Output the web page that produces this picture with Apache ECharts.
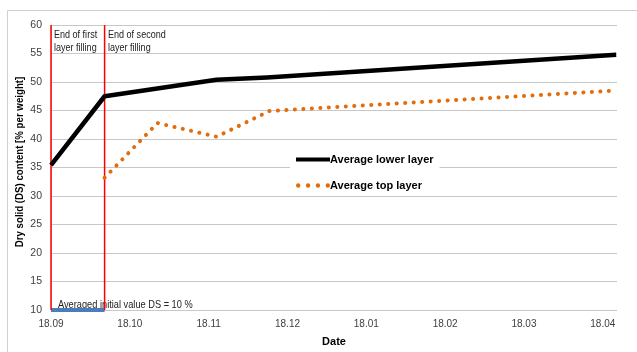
<!DOCTYPE html>
<html><head><meta charset="utf-8">
<script src="https://cdn.jsdelivr.net/npm/echarts@6/dist/echarts.min.js"></script>
<style>html,body{margin:0;padding:0;background:#fff}#c{width:637px;height:352px}</style>
</head><body><div id="c"></div>
<script>
// x values are months since 18.09
var tickLabels = ['18.09','18.10','18.11','18.12','18.01','18.02','18.03','18.04'];
var lowerX = [0, 0.68, 2.10, 2.74, 7.17];
var lowerY = [35.4, 47.5, 50.4, 50.8, 54.8];
var topX = [0.68, 1.35, 2.10, 2.77, 3.0, 7.15];
var topY = [33.2, 42.8, 40.4, 44.9, 45.1, 48.5];
var fill1X = 0, fill2X = 0.68;
var initialValue = 10;
var yMin = 10, yMax = 60;

function pairs(xs, ys){ return xs.map(function(x,i){return [x, ys[i]];}); }

var chart = echarts.init(document.getElementById('c'));
var F = 'Liberation Sans, Arial, sans-serif';
chart.setOption({
  animation: false,
  grid: {left: 51, right: 20, top: 25, bottom: 36},
  xAxis: {
    type: 'value', min: 0, max: 7.18, interval: 1,
    name: 'Date', nameLocation: 'middle', nameGap: 26,
    nameTextStyle: {fontFamily: F, fontWeight: 'bold', fontSize: 11, color: '#000'},
    axisLine: {show: false}, axisTick: {show: false}, splitLine: {show: false},
    axisLabel: {fontFamily: F, fontSize: 10, color: '#404040', margin: 9, showMaxLabel: false,
      formatter: function(v){ return tickLabels[Math.round(v)] || ''; }}
  },
  yAxis: {
    type: 'value', min: yMin, max: yMax, interval: 5,
    axisLine: {show: true, lineStyle: {color: '#bfbfbf'}}, axisTick: {show: false},
    splitLine: {lineStyle: {color: '#c8c8c8', width: 1}},
    axisLabel: {fontFamily: F, fontSize: 10.5, color: '#404040', margin: 9}
  },
  legend: {
    orient: 'vertical', left: 290, top: 150, itemGap: 15, itemWidth: 34, itemHeight: 12,
    padding: [4, 6, 4, 6], backgroundColor: '#fff',
    textStyle: {fontFamily: F, fontWeight: 'bold', fontSize: 11, color: '#000', padding: [0,0,0,-5]},
    data: [
      {name: 'Average lower layer', icon: 'path://M0,4 L34,4 L34,8 L0,8 Z', itemStyle: {color: '#000'}},
      {name: 'Average top layer', icon: 'path://M2,6 a2,2 0 1,0 4,0 a2,2 0 1,0 -4,0 M11,6 a2,2 0 1,0 4,0 a2,2 0 1,0 -4,0 M20,6 a2,2 0 1,0 4,0 a2,2 0 1,0 -4,0 M29,6 a2,2 0 1,0 4,0 a2,2 0 1,0 -4,0', itemStyle: {color: '#e46c0a'}}
    ]
  },
  graphic: [
    {type: 'rect', shape: {x: 7.5, y: 10.5, width: 700, height: 400}, style: {fill: 'none', stroke: '#d0d0d0', lineWidth: 1}, silent: true, z: -10},
    {type: 'text', x: 20, y: 162, rotation: Math.PI / 2, scaleX: 0.88,
      style: {text: 'Dry solid (DS) content [% per weight]', font: 'bold 11px ' + F, fill: '#000', align: 'center', verticalAlign: 'middle'}},
    {type: 'text', x: 54, y: 29, scaleX: 0.86, style: {text: 'End of first\nlayer filling', font: '10.5px ' + F, fill: '#222', lineHeight: 13}},
    {type: 'text', x: 108, y: 29, scaleX: 0.86, style: {text: 'End of second\nlayer filling', font: '10.5px ' + F, fill: '#222', lineHeight: 13}},
    {type: 'text', x: 58, y: 299, scaleX: 0.84, style: {text: 'Averaged initial value DS = 10 %', font: '11px ' + F, fill: '#222'}}
  ],
  series: [
    {name: 'initial', type: 'line', data: [[fill1X, initialValue], [fill2X, initialValue]], showSymbol: false,
      lineStyle: {color: '#4a7ebb', width: 4}, z: 3},
    {name: 'fill1', type: 'line', data: [[fill1X, yMin], [fill1X, yMax]], showSymbol: false,
      lineStyle: {color: '#ff0000', width: 1.5}, z: 4},
    {name: 'fill2', type: 'line', data: [[fill2X, yMin], [fill2X, yMax]], showSymbol: false,
      lineStyle: {color: '#ff0000', width: 1.5}, z: 4},
    {name: 'Average lower layer', type: 'line', data: pairs(lowerX, lowerY), showSymbol: false,
      lineStyle: {color: '#000', width: 4.5, join: 'round'}, itemStyle: {color: '#000'}, z: 5},
    {name: 'Average top layer', type: 'line', data: pairs(topX, topY), showSymbol: false,
      lineStyle: {color: '#e46c0a', width: 4, type: [0.1, 8.4], cap: 'round'}, itemStyle: {color: '#e46c0a'}, z: 5}
  ]
});
</script></body></html>
